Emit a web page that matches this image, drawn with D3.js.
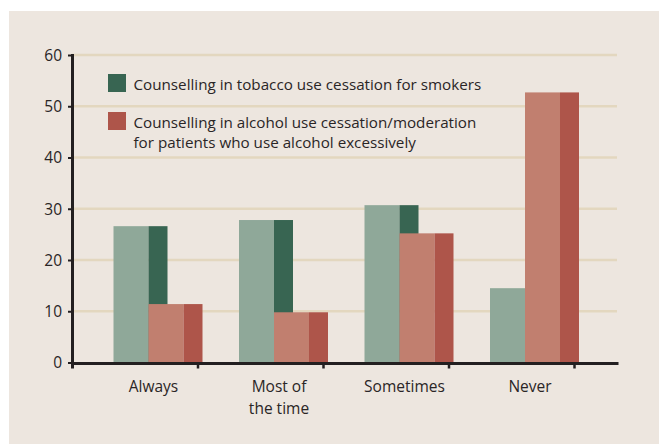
<!DOCTYPE html>
<html><head><meta charset="utf-8">
<script src="https://cdn.jsdelivr.net/npm/d3@7"></script>
<style>
body{margin:0;background:#fff}
text{font-family:"Open Sans","Noto Sans",sans-serif;fill:#2a2526}
</style>
</head><body>
<svg id="c" width="659" height="444"></svg>
<script>
const categories = ["Always", "Most of the time", "Sometimes", "Never"];
const categoryLabels = [["Always"], ["Most of", "the time"], ["Sometimes"], ["Never"]];
const tobacco = [26.6, 27.8, 30.7, 14.5];
const alcohol = [11.4, 9.8, 25.2, 52.7];
const seriesKeys = ["tobacco", "alcohol"];
const seriesLabels = [
  ["Counselling in tobacco use cessation for smokers"],
  ["Counselling in alcohol use cessation/moderation", "for patients who use alcohol excessively"]
];
const yTicks = [0, 10, 20, 30, 40, 50, 60];

const colors = {
  tobacco: {front: "#8fa899", side: "#386552"},
  alcohol: {front: "#c17f6f", side: "#ae554a"}
};

const svg = d3.select("#c");
svg.append("rect").attr("x", 9).attr("y", 11).attr("width", 650).attr("height", 433).attr("fill", "#ede6df");

const x = d3.scaleBand().domain(categories).range([72.5, 574.5]).padding(0);
const sub = d3.scaleBand().domain(seriesKeys).range([41, 111]).padding(0);
const sideW = 19;
const y = d3.scaleLinear().domain([0, 60]).range([362.5, 55]);
const gridRight = 617;

// gridlines
svg.append("g").selectAll("line").data(yTicks.filter(d => d > 0)).join("line")
  .attr("x1", 72).attr("x2", gridRight)
  .attr("y1", d => y(d)).attr("y2", d => y(d))
  .attr("stroke", "#e3d7bf").attr("stroke-width", 2.6);

// bars
const data = categories.map((c, i) => ({c, tobacco: tobacco[i], alcohol: alcohol[i]}));
const g = svg.append("g");
seriesKeys.forEach(k => {
  data.forEach(d => {
    const x0 = x(d.c) + sub(k);
    const bw = sub.bandwidth();
    g.append("rect").attr("x", x0).attr("y", y(d[k])).attr("width", bw)
      .attr("height", y(0) - y(d[k])).attr("fill", colors[k].front);
    g.append("rect").attr("x", x0 + bw).attr("y", y(d[k])).attr("width", sideW)
      .attr("height", y(0) - y(d[k])).attr("fill", colors[k].side);
  });
});

// y axis
const yAxis = d3.axisLeft(y).tickValues(yTicks).tickSize(4.5).tickPadding(6).tickSizeOuter(0);
const ya = svg.append("g").attr("transform", "translate(72.5,0)").call(yAxis);
ya.select(".domain").remove();
ya.selectAll(".tick line").attr("stroke", "#231f20").attr("stroke-width", 2);
ya.selectAll(".tick text").attr("font-size", 15.5).attr("fill", "#2a2526")
  .style("font-family", '"Open Sans","Noto Sans",sans-serif').attr("dy", "0.35em");

// axis lines
svg.append("line").attr("x1", 72.5).attr("x2", 72.5).attr("y1", 54).attr("y2", 368.5)
  .attr("stroke", "#231f20").attr("stroke-width", 3);
svg.append("line").attr("x1", 71).attr("x2", 618.5).attr("y1", 363.5).attr("y2", 363.5)
  .attr("stroke", "#231f20").attr("stroke-width", 3);
// x ticks at band boundaries
svg.append("g").selectAll("line").data(categories).join("line")
  .attr("x1", d => x(d) + x.step()).attr("x2", d => x(d) + x.step())
  .attr("y1", 363).attr("y2", 368.5)
  .attr("stroke", "#231f20").attr("stroke-width", 2.5);

// x labels
const xl = svg.append("g").selectAll("text").data(categories).join("text")
  .attr("text-anchor", "middle").attr("font-size", 15.5)
  .attr("x", d => x(d) + 81).attr("y", 392);
xl.each(function(d, i) {
  const t = d3.select(this);
  categoryLabels[i].forEach((ln, j) => {
    t.append("tspan").attr("x", x(d) + 81).attr("y", 392 + j * 21.5).text(ln);
  });
});

// legend
const leg = svg.append("g");
const legY = [74, 112];
seriesKeys.forEach((k, i) => {
  leg.append("rect").attr("x", 108).attr("y", legY[i]).attr("width", 18).attr("height", 18)
    .attr("fill", colors[k].side);
  seriesLabels[i].forEach((ln, j) => {
    leg.append("text").attr("class", "lt").attr("x", 133.5).attr("y", legY[i] + 16 + j * 20)
      .attr("font-size", 15.5).text(ln);
  });
});
// fit legend font width to reference (first line ~348px)
const first = leg.select("text.lt").node();
const w = first.getComputedTextLength();
const fs = Math.max(12, Math.min(17, 15.5 * 348 / w));
leg.selectAll("text.lt").attr("font-size", fs);
</script>
</body></html>
